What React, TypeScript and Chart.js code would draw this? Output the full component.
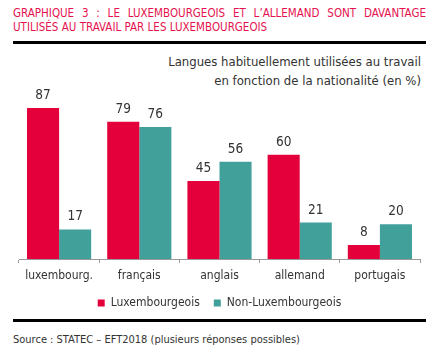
import React, { useEffect, useRef } from "react";
import { Chart, registerables } from "chart.js";

Chart.register(...registerables);

const categories = ["luxembourg.", "français", "anglais", "allemand", "portugais"];
const seriesNames = ["Luxembourgeois", "Non-Luxembourgeois"];
const luxValues = [87, 79, 45, 60, 8];
const nonLuxValues = [17, 76, 56, 21, 20];

const FONT = "'Liberation Sans Narrow', 'DejaVu Sans Condensed', 'Roboto', sans-serif";
const RED = "#E4003A";
const TEAL = "#41A09A";
const TEXT = "#333333";

const valueLabels = {
  id: "valueLabels",
  afterDatasetsDraw(chart: any) {
    const ctx = chart.ctx;
    ctx.save();
    ctx.font = `13.5px ${FONT}`;
    ctx.fillStyle = TEXT;
    ctx.textAlign = "center";
    ctx.textBaseline = "alphabetic";
    chart.data.datasets.forEach((ds: any, di: number) => {
      const meta = chart.getDatasetMeta(di);
      meta.data.forEach((bar: any, i: number) => {
        ctx.fillText(String(ds.data[i]), bar.x, bar.y - 9);
      });
    });
    ctx.restore();
  },
};

export default function App() {
  const ref = useRef<HTMLCanvasElement>(null);
  useEffect(() => {
    if (!ref.current) return;
    const chart = new Chart(ref.current, {
      type: "bar",
      data: {
        labels: categories,
        datasets: [
          { label: seriesNames[0], data: luxValues, backgroundColor: RED, categoryPercentage: 0.8, barPercentage: 1.0 },
          { label: seriesNames[1], data: nonLuxValues, backgroundColor: TEAL, categoryPercentage: 0.8, barPercentage: 1.0 },
        ],
      },
      options: {
        animation: false,
        responsive: false,
        maintainAspectRatio: false,
        layout: { padding: { left: 19, right: 25, top: 35.4, bottom: 0 } },
        plugins: {
          legend: {
            position: "bottom",
            labels: {
              boxWidth: 7,
              boxHeight: 7,
              padding: 14,
              color: TEXT,
              font: { family: FONT, size: 12 },
            },
          },
          tooltip: { enabled: false },
        },
        scales: {
          y: { display: false, min: 0, max: 100 },
          x: {
            afterFit: (s: any) => { s.height = 24; },
            grid: { display: true, drawOnChartArea: false, drawTicks: true, tickLength: 4, color: "#9a9a9a", offset: true },
            border: { display: true, color: "#9a9a9a", width: 1 },
            ticks: { color: TEXT, font: { family: FONT, size: 12 }, padding: 6 },
          },
        },
      },
      plugins: [valueLabels],
    });
    return () => chart.destroy();
  }, []);

  return (
    <div style={{ position: "absolute", left: 0, top: 0, width: 445, height: 361, background: "#fff", fontFamily: FONT, color: TEXT }}>
      <div style={{ position: "absolute", left: 13, top: 6, width: 413, fontSize: 11.5, lineHeight: "14px", color: "#E5124F", textAlign: "justify", textAlignLast: "justify" as any, whiteSpace: "nowrap" }}>
        GRAPHIQUE 3 : LE LUXEMBOURGEOIS ET L’ALLEMAND SONT DAVANTAGE
      </div>
      <div style={{ position: "absolute", left: 13, top: 20, fontSize: 11.5, lineHeight: "14px", color: "#E5124F", whiteSpace: "nowrap" }}>
        UTILISÉS AU TRAVAIL PAR LES LUXEMBOURGEOIS
      </div>
      <div style={{ position: "absolute", left: 13, top: 41, width: 413, height: 3, background: "#000" }} />
      <div style={{ position: "absolute", right: 24, top: 52, textAlign: "right", fontSize: 13, lineHeight: "19px", whiteSpace: "nowrap" }}>
        Langues habituellement utilisées au travail<br />en fonction de la nationalité (en %)
      </div>
      <canvas ref={ref} width={445} height={269} style={{ position: "absolute", left: 0, top: 50, width: 445, height: 269 }} />
      <div style={{ position: "absolute", left: 13, top: 319, width: 413, height: 3, background: "#000" }} />
      <div style={{ position: "absolute", left: 13, top: 333, fontSize: 11, lineHeight: "14px", whiteSpace: "nowrap" }}>
        Source : STATEC – EFT2018 (plusieurs réponses possibles)
      </div>
    </div>
  );
}
